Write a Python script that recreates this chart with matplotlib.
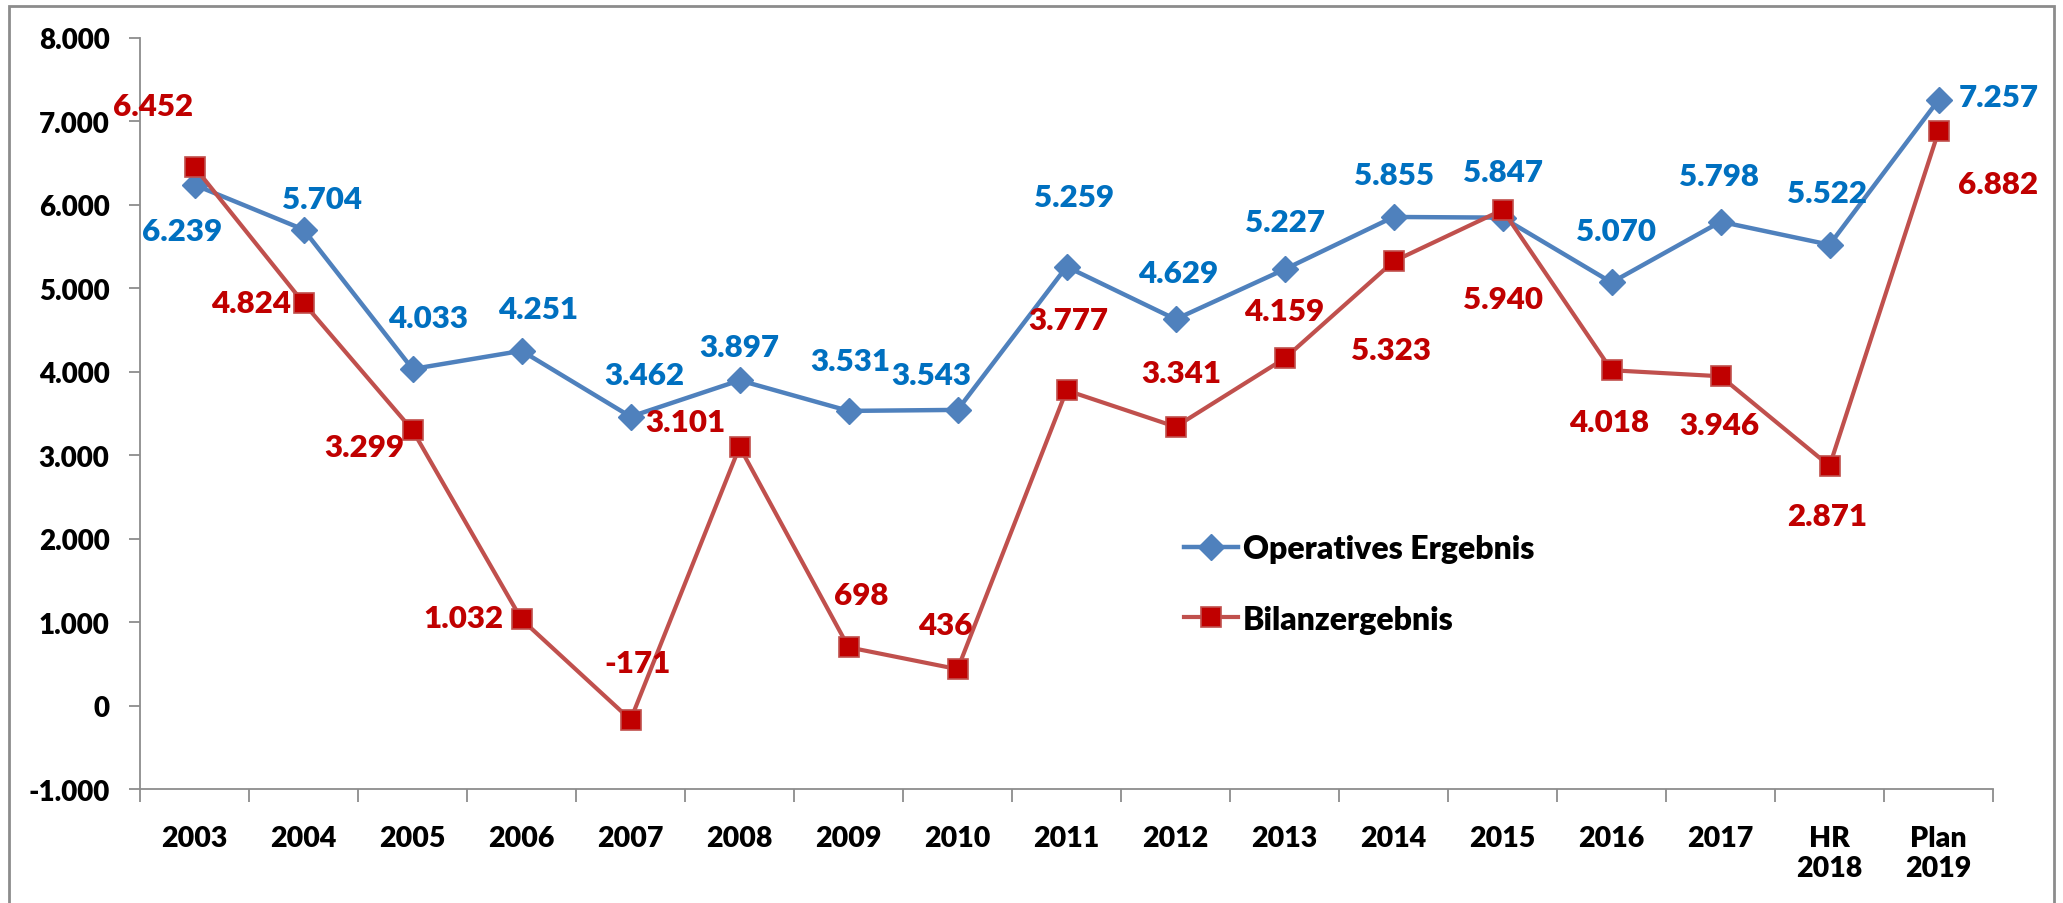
import matplotlib.pyplot as plt
import matplotlib.patches as patches
from matplotlib.ticker import FuncFormatter, FixedLocator

plt.rcParams['font.family'] = ['Lato', 'DejaVu Sans']
plt.rcParams['font.weight'] = 'heavy'

# Daten
jahre = ['2003', '2004', '2005', '2006', '2007', '2008', '2009', '2010', '2011',
         '2012', '2013', '2014', '2015', '2016', '2017', 'HR\n2018', 'Plan\n2019']
operativ = [6239, 5704, 4033, 4251, 3462, 3897, 3531, 3543, 5259,
            4629, 5227, 5855, 5847, 5070, 5798, 5522, 7257]
bilanz = [6452, 4824, 3299, 1032, -171, 3101, 698, 436, 3777,
          3341, 4159, 5323, 5940, 4018, 3946, 2871, 6882]

# Versatz der Beschriftungen (Punkte, x / y nach oben)
off_operativ = [(-9, -33), (13, 22), (11, 37), (12, 30), (10, 30), (0, 24), (1, 36), (-19, 25),
                (5, 50), (2, 33), (0, 34), (0, 30), (0, 33), (3, 37), (-1, 33), (-2, 37), (43, 2)]
off_bilanz = [(-30, 44), (-38, 0), (-35, -12), (-42, 1), (5, 41), (-39, 18), (9, 38), (-9, 32),
              (1, 51), (4, 39), (0, 34), (-2, -64), (0, -64), (-2, -37), (-1, -35), (-2, -36), (43, -38)]

blau_linie = '#4F81BD'
blau_text = '#0070C0'
rot_linie = '#C0504D'
rot_marker = '#C00000'
grau = '#8C8C8C'

fig = plt.figure(figsize=(20.63, 9.04), dpi=100)
ax = fig.add_axes([0.0679, 0.1261, 0.8982, 0.8308])

x = list(range(len(jahre)))
ax.plot(x, operativ, color=blau_linie, lw=3.2, marker='D', markersize=13,
        markerfacecolor=blau_linie, markeredgecolor=blau_linie, label='Operatives Ergebnis', zorder=3)
ax.plot(x, bilanz, color=rot_linie, lw=3, marker='s', markersize=15,
        markerfacecolor=rot_marker, markeredgecolor=rot_linie, markeredgewidth=1.2,
        label='Bilanzergebnis', zorder=4)

def fmt(v):
    return f'{v:,.0f}'.replace(',', '.')

for xi, v, o in zip(x, operativ, off_operativ):
    ax.annotate(fmt(v), (xi, v), xytext=o, textcoords='offset points', ha='center', va='center',
                fontsize=22.5, fontweight='heavy', color=blau_text, zorder=5)
for xi, v, o in zip(x, bilanz, off_bilanz):
    ax.annotate(fmt(v), (xi, v), xytext=o, textcoords='offset points', ha='center', va='center',
                fontsize=22.5, fontweight='heavy', color=rot_marker, zorder=5)

ax.set_xlim(-0.5, len(jahre) - 0.5)
ax.set_ylim(-1000, 8000)
ax.set_yticks(range(-1000, 8001, 1000))
ax.yaxis.set_major_formatter(FuncFormatter(lambda v, p: fmt(v)))
ax.set_xticks(x)
ax.set_xticklabels(jahre)
ax.xaxis.set_minor_locator(FixedLocator([i - 0.5 for i in range(len(jahre) + 1)]))

for s in ['top', 'right']:
    ax.spines[s].set_visible(False)
for s in ['left', 'bottom']:
    ax.spines[s].set_color(grau)
    ax.spines[s].set_linewidth(1.3)

ax.tick_params(axis='y', length=8, width=1.3, color=grau, pad=14, labelsize=20)
ax.tick_params(axis='x', which='major', length=0, pad=26, labelsize=20.5)
ax.tick_params(axis='x', which='minor', length=9, width=1.3, color=grau)
for t in ax.get_xticklabels() + ax.get_yticklabels():
    t.set_fontweight('heavy')

leg = ax.legend(loc='upper left', bbox_to_anchor=(0.56, 0.44), bbox_transform=fig.transFigure,
                frameon=False, fontsize=23, handlelength=1.7, labelspacing=1.3, handletextpad=0.15)
for t in leg.get_texts():
    t.set_fontweight('heavy')

# Rahmen um das Diagramm
fig.patches.append(patches.Rectangle((9 / 2063, -0.05), 2045 / 2063, 1.05 - 7 / 904,
                                     transform=fig.transFigure, fill=False, edgecolor=grau, lw=2))

plt.savefig('out.png', dpi=100)
